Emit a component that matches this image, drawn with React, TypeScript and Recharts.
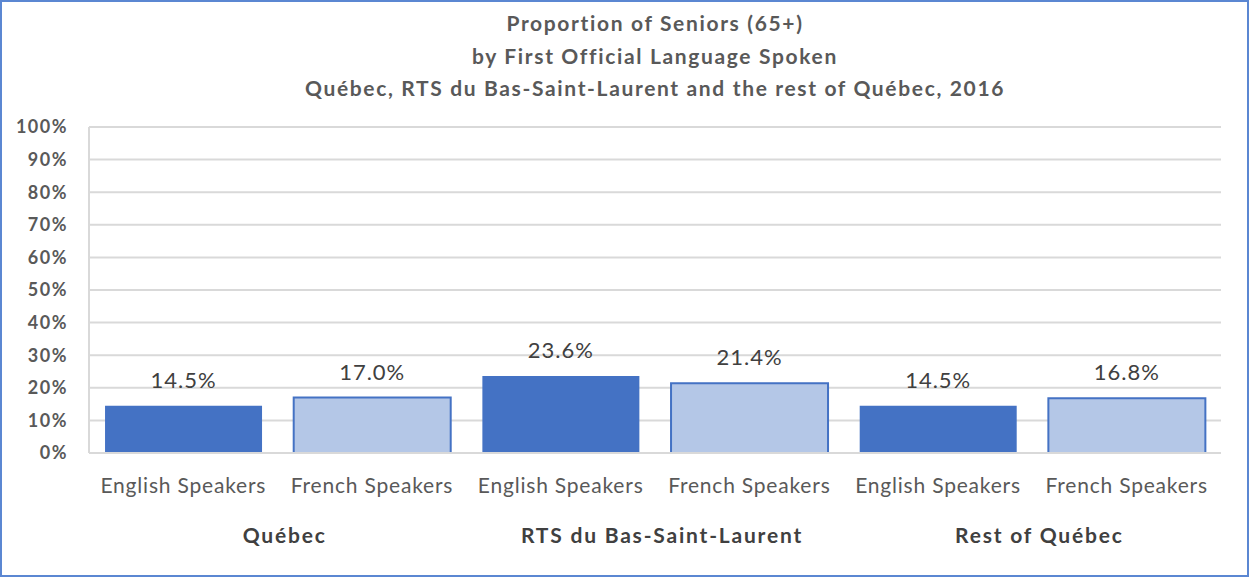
import React from 'react';
import { BarChart, Bar, XAxis, YAxis, CartesianGrid, Cell, LabelList } from 'recharts';

const speakers = ['English Speakers', 'French Speakers', 'English Speakers', 'French Speakers', 'English Speakers', 'French Speakers'];
const regions = ['Québec', 'Québec', 'RTS du Bas-Saint-Laurent', 'RTS du Bas-Saint-Laurent', 'Rest of Québec', 'Rest of Québec'];
const seniorShare = [14.5, 17.0, 23.6, 21.4, 14.5, 16.8];
const yTicks = [0, 10, 20, 30, 40, 50, 60, 70, 80, 90, 100];
const titleLines = [
  'Proportion of Seniors (65+)',
  'by First Official Language Spoken',
  'Québec, RTS du Bas-Saint-Laurent and the rest of Québec, 2016',
];

const data = speakers.map((s, i) => ({ speaker: s, region: regions[i], value: seniorShare[i] }));

const W = 1249;
const H = 577;
const FONT = 'Lato, "Open Sans", sans-serif';
const dark = '#4472C4';
const light = '#B4C7E7';
const grid = '#D9D9D9';

const PLOT_LEFT = 89;
const PLOT_RIGHT = 1221;
const bandW = (PLOT_RIGHT - PLOT_LEFT) / data.length;

// group label sits centred under each pair of bars
const GroupTick = (props: any) => {
  const { x, y, index, payload } = props;
  if (index % 2 !== 0) return null;
  return (
    <text x={x + bandW / 2 + 7} y={y} dy="0.71em" textAnchor="middle" fill="#404040"
      fontFamily={FONT} fontSize={21} fontWeight={700} letterSpacing={1.8}>
      {payload.value}
    </text>
  );
};

export default function App() {
  return (
    <div style={{ position: 'relative', width: W, height: H, background: '#fff', fontFamily: FONT }}>
      <style>{`body{margin:0}`}</style>
      <div style={{ position: 'absolute', left: 0, top: 0, width: W, height: H, boxSizing: 'border-box', border: '2px solid #5B87D2', pointerEvents: 'none', zIndex: 2 }} />
      <div style={{ position: 'absolute', left: PLOT_LEFT - 300, top: 7, width: PLOT_RIGHT - PLOT_LEFT + 600, textAlign: 'center', color: '#595959', fontSize: 21, fontWeight: 700, letterSpacing: 1.65, lineHeight: '32.5px', zIndex: 1 }}>
        {titleLines.map((t) => <div key={t}>{t}</div>)}
      </div>
      <BarChart width={W} height={H} data={data}
        margin={{ top: 127, right: W - PLOT_RIGHT, bottom: 9, left: 9 }}
        barCategoryGap="8.5%">
        <CartesianGrid vertical={false} stroke={grid} strokeWidth={2} />
        <XAxis dataKey="speaker" interval={0} height={55} tickLine={false} tickSize={0} tickMargin={25}
          axisLine={{ stroke: grid, strokeWidth: 2 }}
          tick={{ fill: '#595959', fontSize: 21, fontFamily: FONT, letterSpacing: 0.8 }} />
        <XAxis dataKey="region" xAxisId="group" interval={0} height={60} axisLine={false} tickLine={false}
          tickSize={0} tickMargin={20} tick={<GroupTick />} allowDuplicatedCategory />
        <YAxis width={80} domain={[0, 100]} ticks={yTicks} interval={0} tickLine={false} tickSize={0} tickMargin={21}
          axisLine={{ stroke: grid, strokeWidth: 2 }} tickFormatter={(v: number) => `${v}%`}
          tick={{ fill: '#595959', fontSize: 18, fontWeight: 700, fontFamily: FONT, letterSpacing: 1.5 }} />
        <YAxis yAxisId="r" orientation="right" width={0} domain={[0, 100]} tick={false} tickLine={false}
          axisLine={{ stroke: grid, strokeWidth: 2 }} />
        <Bar dataKey="value" isAnimationActive={false}>
          {data.map((d, i) => (
            <Cell key={i} fill={i % 2 === 0 ? dark : light} stroke={dark} strokeWidth={i % 2 === 0 ? 0 : 2} />
          ))}
          <LabelList dataKey="value" position="top" offset={18} fill="#404040" fontSize={22} fontFamily={FONT}
            letterSpacing={1} formatter={(v: any) => `${Number(v).toFixed(1)}%`} />
        </Bar>
      </BarChart>
    </div>
  );
}
